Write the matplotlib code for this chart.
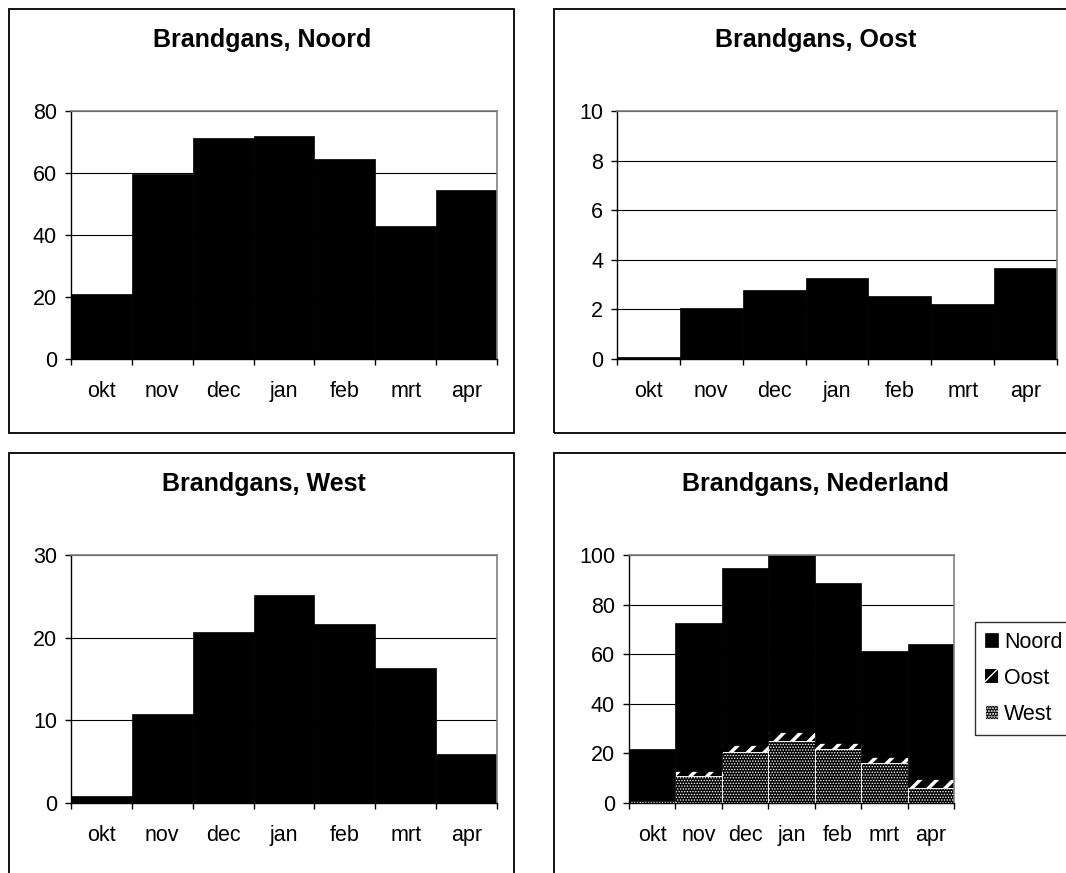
import matplotlib
matplotlib.use('Agg')
import matplotlib.pyplot as plt
from matplotlib.patches import Rectangle
import numpy as np

plt.rcParams['font.family'] = ['Liberation Sans', 'DejaVu Sans']

# monthly values
months = ['okt', 'nov', 'dec', 'jan', 'feb', 'mrt', 'apr']
noord = [20.9, 59.8, 71.3, 71.8, 64.6, 42.9, 54.4]
oost = [0.1, 2.04, 2.78, 3.26, 2.54, 2.21, 3.66]
west = [0.85, 10.75, 20.7, 25.2, 21.6, 16.3, 5.9]

W, H = 1066, 873
TICK_FS = 15.5
TITLE_FS = 18


def px_rect(left, top, right, bottom):
    # pixel box -> figure fraction [l, b, w, h]
    return [left / W, 1 - bottom / H, (right - left) / W, (bottom - top) / H]


def style_axes(ax, ymax, step):
    x = np.arange(len(months))
    ax.set_xlim(-0.5, len(months) - 0.5)
    ax.set_ylim(0, ymax)
    ax.set_yticks(np.arange(0, ymax + step / 2, step))
    ax.set_xticks(x)
    ax.set_xticklabels(months)
    ax.set_xticks(np.arange(len(months) + 1) - 0.5, minor=True)
    ax.tick_params(axis='x', which='major', length=0, pad=16, labelsize=TICK_FS)
    ax.tick_params(axis='x', which='minor', length=4, width=1, color='black')
    ax.tick_params(axis='y', length=4, width=1, pad=6, labelsize=TICK_FS)
    ax.yaxis.grid(True, color='black', lw=0.8)
    ax.set_axisbelow(True)
    for s in ['top', 'right']:
        ax.spines[s].set_color('#808080')
        ax.spines[s].set_linewidth(1.2)
    for s in ['left', 'bottom']:
        ax.spines[s].set_color('black')
        ax.spines[s].set_linewidth(1)


def title(xc, ybase, txt):
    fig.text(xc / W, 1 - ybase / H, txt, ha='center', va='baseline',
             fontsize=TITLE_FS, fontweight='bold')


fig = plt.figure(figsize=(W / 100, H / 100), dpi=100)

# panel frames
frames = [(9, 9, 514, 433), (554, 9, 1080, 433), (9, 453, 514, 890), (554, 453, 1080, 890)]
for l, t, r, b in frames:
    fig.add_artist(Rectangle((l / W, 1 - b / H), (r - l) / W, (b - t) / H,
                             transform=fig.transFigure, fill=False, ec='black', lw=1.3))

x = np.arange(len(months))

# Noord
ax1 = fig.add_axes(px_rect(71, 111, 497, 359))
ax1.bar(x, noord, width=1.0, color='black', edgecolor='black', lw=0.5)
style_axes(ax1, 80, 20)
title(262.5, 46.7, 'Brandgans, Noord')

# Oost
ax2 = fig.add_axes(px_rect(617, 111, 1057, 359))
ax2.bar(x, oost, width=1.0, color='black', edgecolor='black', lw=0.5)
style_axes(ax2, 10, 2)
title(815.5, 46.7, 'Brandgans, Oost')

# West
ax3 = fig.add_axes(px_rect(71, 555, 497, 803))
ax3.bar(x, west, width=1.0, color='black', edgecolor='black', lw=0.5)
style_axes(ax3, 30, 10)
title(263.5, 491.5, 'Brandgans, West')

# Nederland, stacked
ax4 = fig.add_axes(px_rect(629, 555, 954, 803))
b_west = ax4.bar(x, west, width=1.0, color='black', edgecolor='white', lw=0.6, hatch='......')
b_oost = ax4.bar(x, oost, width=1.0, bottom=west, color='black', edgecolor='white', lw=0, hatch='//')
bottom2 = [w + o for w, o in zip(west, oost)]
b_noord = ax4.bar(x, noord, width=1.0, bottom=bottom2, color='black', edgecolor='black', lw=0.5)
for bars, hlw in [(b_west, 0.65), (b_oost, 2.5)]:
    for p in bars:
        if hasattr(p, 'set_hatch_linewidth'):
            p.set_hatch_linewidth(hlw)
style_axes(ax4, 100, 20)
title(815, 491.5, 'Brandgans, Nederland')

leg = fig.legend([b_noord[0], b_oost[0], b_west[0]], ['Noord', 'Oost', 'West'],
                 loc='upper left', bbox_to_anchor=(975 / W, 1 - 622 / H),
                 fontsize=15.5, handlelength=0.6, handleheight=0.6, handletextpad=0.3,
                 labelspacing=0.7, borderpad=0.45, borderaxespad=0,
                 fancybox=False, frameon=True)
leg.get_frame().set_edgecolor('black')
leg.get_frame().set_linewidth(1)

fig.savefig('out.png', dpi=100)
